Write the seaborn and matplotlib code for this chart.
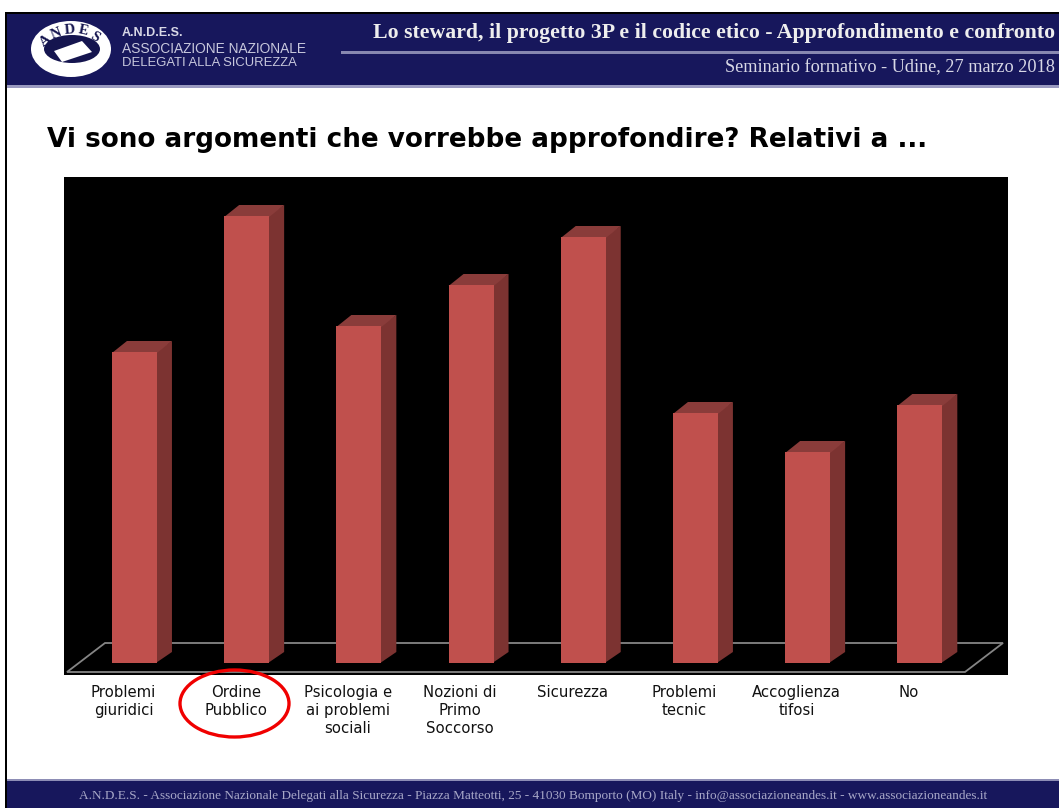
import matplotlib
matplotlib.use("Agg")
import matplotlib.pyplot as plt
from matplotlib.patches import Ellipse, Polygon, Rectangle
from matplotlib.transforms import ScaledTranslation
import pandas as pd
import seaborn as sns

categories = ["Problemi\ngiuridici", "Ordine\nPubblico", "Psicologia e\nai problemi\nsociali",
              "Nozioni di\nPrimo\nSoccorso", "Sicurezza", "Problemi\ntecnic", "Accoglienza\ntifosi", "No"]
values = [31.1, 44.7, 33.7, 37.8, 42.6, 25.0, 21.1, 25.8]

W, H = 1059, 808
NAVY = "#17175c"
RED = "#c0504d"
SIDE = "#7c3331"
TOP = "#8a3c3a"
GREY = "#858585"


def fx(px):
    return px / W


def fy(py):
    return 1 - py / H


sns.set_theme(style="white")
plt.rcParams["font.family"] = ["DejaVu Sans"]

fig = plt.figure(figsize=(W / 100, H / 100), dpi=100, facecolor="white")

# page furniture, in pixel coordinates of the slide
bg = fig.add_axes([0, 0, 1, 1])
bg.set_xlim(0, W)
bg.set_ylim(H, 0)
bg.axis("off")
bg.add_patch(Rectangle((5, 12), W, 73, fc=NAVY, ec="none"))
bg.add_patch(Rectangle((5, 12), W, 2, fc="black", ec="none"))
bg.add_patch(Rectangle((5, 85), W, 2.5, fc="#9a9ac0", ec="none"))
bg.add_patch(Rectangle((5, 12), 2, H, fc="black", ec="none"))
bg.add_patch(Rectangle((7, 781), W, 27, fc=NAVY, ec="none"))
bg.add_patch(Rectangle((7, 779), W, 2, fc="#8d8db5", ec="none"))

# logo
bg.add_patch(Ellipse((71, 49), 80, 56, fc="white", ec="none"))
bg.add_patch(Ellipse((72, 49), 56, 28, fc="#15154f", ec="none"))
bg.add_patch(Polygon([[54, 51], [82, 41], [92, 52], [62, 62]], fc="white", ec="none"))
for ch, x, y, rot in [("A", 46, 41, 40), ("N", 56, 34, 22), ("D", 70, 30, 5), ("E", 83, 31, -12), ("S", 95, 37, -32)]:
    bg.text(x, y, ch, fontsize=10.5, fontweight="bold", family="Liberation Serif",
            color="#15154f", ha="center", va="center", rotation=rot)

bg.text(122, 33, "A.N.D.E.S.", fontsize=9, fontweight="bold", color="#d8d8e6", va="center", family="Liberation Sans")
bg.text(122, 49, "ASSOCIAZIONE NAZIONALE", fontsize=9.9, color="#c8c8dd", va="center", family="Liberation Sans")
bg.text(122, 63, "DELEGATI ALLA SICUREZZA", fontsize=9.4, color="#c8c8dd", va="center", family="Liberation Sans")

bg.text(1055, 33, "Lo steward, il progetto 3P e il codice etico - Approfondimento e confronto",
        fontsize=15.7, fontweight="bold", family="Liberation Serif", color="#eeeeee", ha="right", va="center")
bg.add_patch(Rectangle((341, 51), W, 3, fc="#8888b0", ec="none"))
bg.text(1055, 68, "Seminario formativo - Udine, 27 marzo 2018", fontsize=13.15,
        family="Liberation Serif", color="#d8d8e6", ha="right", va="center")
bg.text(47, 140, "Vi sono argomenti che vorrebbe approfondire? Relativi a ...", fontsize=18.9,
        fontweight="bold", family="DejaVu Sans", color="black", va="center")
bg.text(533, 796, "A.N.D.E.S. - Associazione Nazionale Delegati alla Sicurezza - Piazza Matteotti, 25 - "
        "41030 Bomporto (MO) Italy - info@associazioneandes.it - www.associazioneandes.it",
        fontsize=9.53, family="Liberation Serif", color="#a8a8c8", ha="center", va="center")

# chart
ax = fig.add_axes([fx(64), fy(675), fx(1008 - 64), fy(177) - fy(675)])
ax.set_facecolor("black")
df = pd.DataFrame({"categoria": categories, "valore": values})
sns.barplot(data=df, x="categoria", y="valore", color=RED, saturation=1, width=0.401,
            linewidth=0, ax=ax, zorder=3)
ax.set_xlim(-0.628, 7.786)
ax.set_ylim(-1.2, 48.6)
ax.set_xlabel("")
ax.set_ylabel("")
ax.set_yticks([])
ax.tick_params(axis="x", length=0, pad=7, labelsize=10.7, colors="#111111")
ax.set_xticks(range(len(categories)))
ax.set_xticklabels(categories, linespacing=1.25, va="top")
shift = ScaledTranslation(-11 / 100, 0, fig.dpi_scale_trans)
for lab in ax.get_xticklabels():
    lab.set_transform(lab.get_transform() + shift)
for s in ax.spines.values():
    s.set_visible(False)

# floor of the 3d box
dx = 15 / 112.2
dy = 1.1
fl = [(67, 672), (105, 643), (1003, 643), (965, 672)]
fl = [((x - 64) / 944, (675 - y) / 498) for x, y in fl]
ax.add_patch(Polygon(fl, closed=True, fc="none", ec=GREY, lw=1.3, transform=ax.transAxes, zorder=1))

# side and top faces come from the bars seaborn drew
for p in list(ax.patches):
    if not isinstance(p, Rectangle):
        continue
    x0, w, h = p.get_x(), p.get_width(), p.get_height()
    x1 = x0 + w
    ax.add_patch(Polygon([[x1 - 0.01, 0], [x1 + dx, dy], [x1 + dx, h + dy], [x1 - 0.01, h]], fc=SIDE, ec="none", zorder=2))
    ax.add_patch(Polygon([[x0, h - 0.1], [x0 + dx, h + dy], [x1 + dx, h + dy], [x1, h - 0.1]], fc=TOP, ec="none", zorder=2))

# red circle round the second label
bg.set_zorder(2)
bg.patch.set_visible(False)
bg.add_patch(Ellipse((234.5, 703.5), 109, 67, fc="none", ec="#f00000", lw=2.4))

fig.savefig("out.png", dpi=100, facecolor="white")
